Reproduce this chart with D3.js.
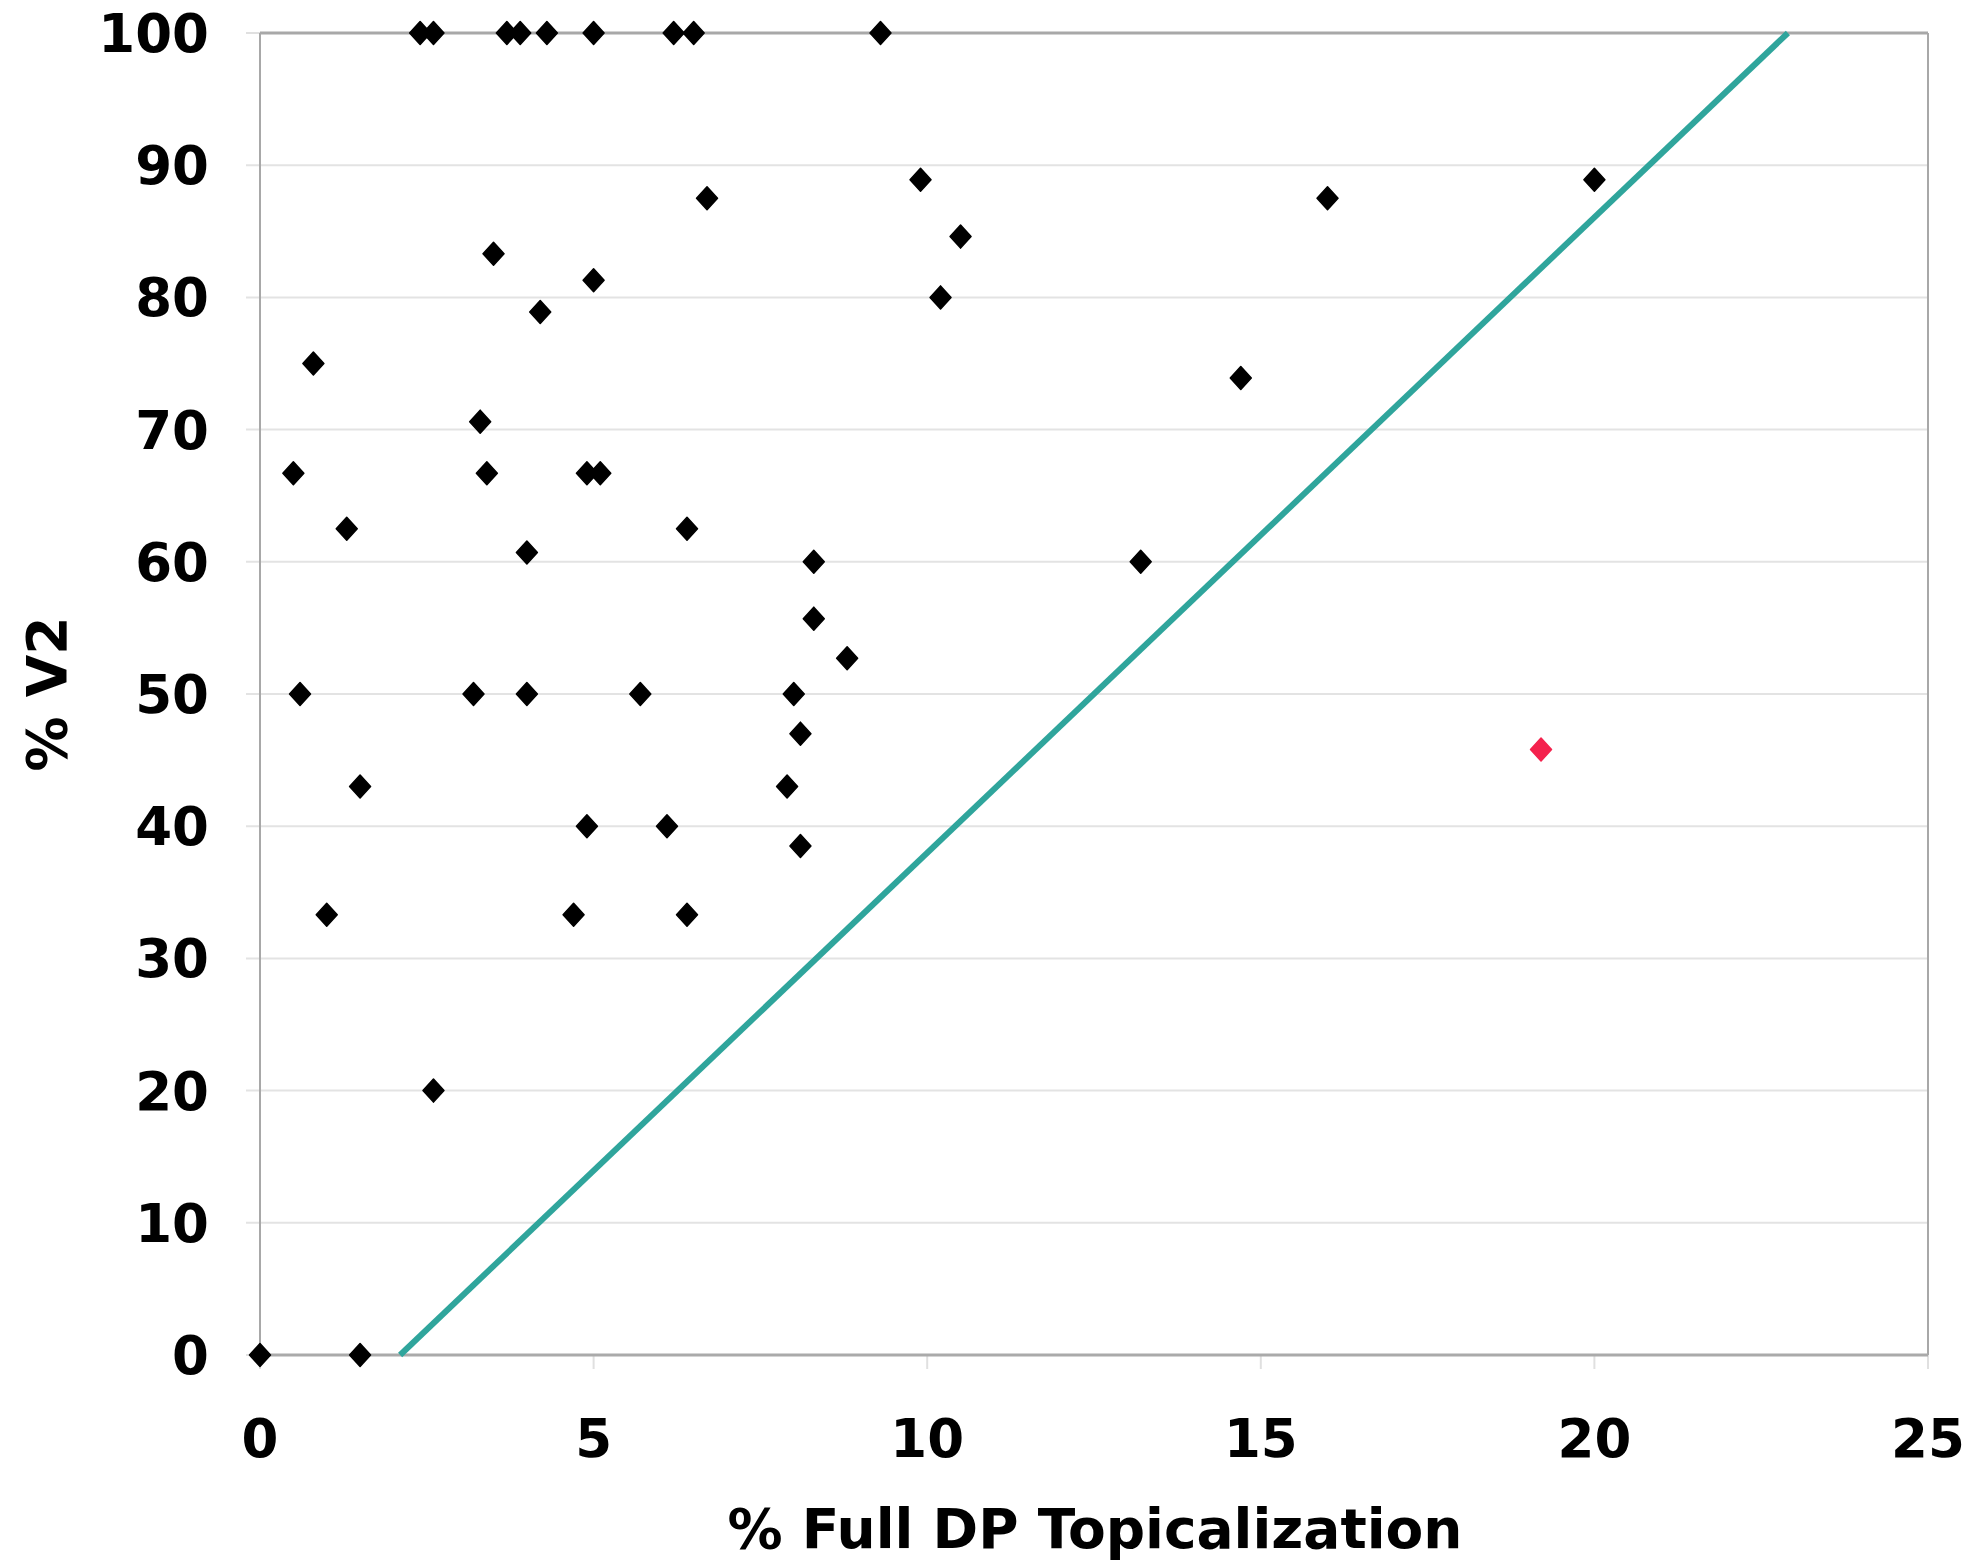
<!DOCTYPE html>
<html>
<head>
<meta charset="utf-8">
<script src="https://d3js.org/d3.v7.min.js"></script>
<style>
    body { margin: 0; background: #fff; }
    text { font-family: 'DejaVu Sans', Verdana, sans-serif; font-weight: bold; fill: #000; }
</style>
</head>
<body>
<script>
// data
const topicX = [2.4, 2.6, 3.7, 3.9, 4.3, 5.0, 6.2, 6.5, 9.3,
    9.9, 20.0, 16.0, 6.7, 10.5, 3.5, 5.0, 10.2, 4.2, 0.8, 14.7,
    3.3, 0.5, 3.4, 4.9, 5.1, 1.3, 6.4, 4.0, 8.3, 13.2, 8.3, 8.8,
    0.6, 3.2, 4.0, 5.7, 8.0, 8.1, 1.5, 7.9, 4.9, 6.1, 8.1,
    1.0, 4.7, 6.4, 2.6, 0, 1.5]
const v2Y = [100, 100, 100, 100, 100, 100, 100, 100, 100,
    88.9, 88.9, 87.5, 87.5, 84.6, 83.3, 81.3, 80, 78.9, 75, 73.9,
    70.6, 66.7, 66.7, 66.7, 66.7, 62.5, 62.5, 60.7, 60, 60, 55.7, 52.7,
    50, 50, 50, 50, 50, 47, 43, 43, 40, 40, 38.5,
    33.3, 33.3, 33.3, 20, 0, 0]
// highlighted point
const redX = [19.2]
const redY = [45.8]
// reference line endpoints
const lineX = [2.1, 22.9]
const lineY = [0, 100]

const xTicks = [0, 5, 10, 15, 20, 25]
const yTicks = [0, 10, 20, 30, 40, 50, 60, 70, 80, 90, 100]

// width and height of svg
const w = 1978
const h = 1564
const pLeft = 260
const pRight = 1928
const pTop = 33
const pBottom = 1355

const svg = d3.select('body')
    .append('svg')
    .attr('width', w)
    .attr('height', h)

const x = d3.scaleLinear().domain([0, 25]).range([pLeft, pRight])
const y = d3.scaleLinear().domain([0, 100]).range([pBottom, pTop])

// gridlines
svg.append('g')
    .selectAll('line')
    .data(yTicks.filter(t => t > 0 && t < 100))
    .enter()
    .append('line')
    .attr('x1', pLeft - 14)
    .attr('x2', pRight)
    .attr('y1', d => y(d))
    .attr('y2', d => y(d))
    .attr('stroke', '#e3e3e3')
    .attr('stroke-width', 2)

// x tick marks below axis
svg.append('g')
    .selectAll('line')
    .data(xTicks)
    .enter()
    .append('line')
    .attr('x1', d => x(d))
    .attr('x2', d => x(d))
    .attr('y1', pBottom)
    .attr('y2', pBottom + 14)
    .attr('stroke', '#e0e0e0')
    .attr('stroke-width', 2)

// y ticks at ends
svg.append('g')
    .selectAll('line')
    .data([0, 100])
    .enter()
    .append('line')
    .attr('x1', pLeft - 14)
    .attr('x2', pLeft)
    .attr('y1', d => y(d))
    .attr('y2', d => y(d))
    .attr('stroke', '#e0e0e0')
    .attr('stroke-width', 2)

// plot frame
svg.append('line').attr('x1', pLeft).attr('x2', pRight).attr('y1', pTop).attr('y2', pTop)
    .attr('stroke', '#a8a8a8').attr('stroke-width', 3)
svg.append('line').attr('x1', pRight).attr('x2', pRight).attr('y1', pTop).attr('y2', pBottom)
    .attr('stroke', '#a8a8a8').attr('stroke-width', 2)
svg.append('line').attr('x1', pLeft).attr('x2', pLeft).attr('y1', pTop).attr('y2', pBottom)
    .attr('stroke', '#a8a8a8').attr('stroke-width', 2)
svg.append('line').attr('x1', pLeft).attr('x2', pRight).attr('y1', pBottom).attr('y2', pBottom)
    .attr('stroke', '#aaaaaa').attr('stroke-width', 3)

// tick labels
svg.append('g')
    .selectAll('text')
    .data(yTicks)
    .enter()
    .append('text')
    .attr('x', 209)
    .attr('y', d => y(d) + 19)
    .attr('text-anchor', 'end')
    .style('font-size', '53px')
    .text(d => d)

svg.append('g')
    .selectAll('text')
    .data(xTicks)
    .enter()
    .append('text')
    .attr('x', d => x(d))
    .attr('y', 1457)
    .attr('text-anchor', 'middle')
    .style('font-size', '53px')
    .text(d => d)

// axis titles
svg.append('text')
    .attr('x', 1095)
    .attr('y', 1548)
    .attr('text-anchor', 'middle')
    .style('font-size', '55px')
    .text('% Full DP Topicalization')

svg.append('text')
    .attr('transform', 'translate(66,694) rotate(-90)')
    .attr('text-anchor', 'middle')
    .style('font-size', '55px')
    .text('% V2')

// reference line
svg.append('line')
    .attr('x1', x(lineX[0]))
    .attr('y1', y(lineY[0]))
    .attr('x2', x(lineX[1]))
    .attr('y2', y(lineY[1]))
    .attr('stroke', '#2fa59c')
    .attr('stroke-width', 6)

// diamond marker
const diamond = 'M0,-11.5L10.5,0L0,11.5L-10.5,0Z'

svg.append('g')
    .selectAll('path')
    .data(topicX.map((d, i) => [d, v2Y[i]]))
    .enter()
    .append('path')
    .attr('d', diamond)
    .attr('transform', d => `translate(${x(d[0])},${y(d[1])})`)
    .attr('fill', '#000')
    .attr('stroke', '#000')
    .attr('stroke-width', 1.5)
    .attr('stroke-linejoin', 'round')

svg.append('g')
    .selectAll('path')
    .data(redX.map((d, i) => [d, redY[i]]))
    .enter()
    .append('path')
    .attr('d', diamond)
    .attr('transform', d => `translate(${x(d[0])},${y(d[1])})`)
    .attr('fill', '#f4224d')
    .attr('stroke', '#f4224d')
    .attr('stroke-width', 1.5)
    .attr('stroke-linejoin', 'round')
</script>
</body>
</html>
